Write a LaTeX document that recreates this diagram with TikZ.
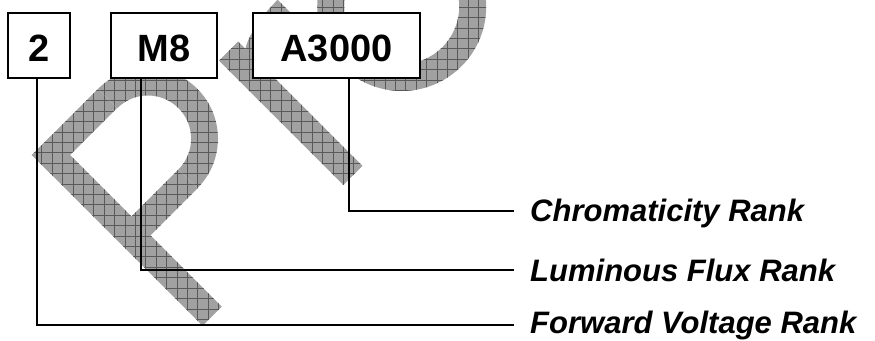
\documentclass[tikz,border=0pt]{standalone}
\usepackage{fontspec}
\setmainfont{Liberation Sans}
\tikzset{
  wmframe/.style={shift={(51,185)}, rotate=45},
  wmfill/.style={fill=black!37},
  wmgrid/.style={draw=black!65, line width=0.6pt, step=10.4},
  codebox/.style={draw=black, fill=white, line width=1.4pt, inner sep=0pt,
    minimum height=65, text height=31.2pt, text depth=0pt,
    font=\fontsize{38}{40}\selectfont\bfseries},
  ranklabel/.style={anchor=west, inner sep=0pt, text height=22pt, text depth=0pt,
    font=\fontsize{31}{33}\selectfont\bfseries\itshape},
  link/.style={draw=black, line width=1.4pt, shorten >=16pt}
}
% one piece of the hatched watermark letters
\newcommand\wmpiece[1]{%
  \begin{scope}
    \clip[wmframe] #1;
    \fill[wmfill] (0,0) rectangle (875,340);
    \draw[wmgrid] (0,0) grid (875,340);
  \end{scope}}
\begin{document}
\begin{tikzpicture}[x=1pt,y=1pt]
\useasboundingbox (0,0) rectangle (875,340);

% watermark "Pro" written diagonally
\wmpiece{(-13.5,-228) rectangle (13.5,13.5)}
\wmpiece{(-13.5,-13.5) rectangle (80,13.5)}
\wmpiece{(0,-127.25) rectangle (80,-100.25)}
\wmpiece{(80,13.5) arc[start angle=90,end angle=-90,radius=70.25] -- (80,-100.25) arc[start angle=-90,end angle=90,radius=43.25] -- cycle}
\wmpiece{(185.5,-228) rectangle (212.5,-52)}
\wmpiece{(185.5,-105) .. controls (190,-62) and (228,-50.5) .. (270,-50.5) -- (270,-77.5) .. controls (238,-77.5) and (216,-84) .. (212.5,-105) -- cycle}
\wmpiece{(437.5,-143) arc[start angle=0,end angle=360,radius=84.5] -- (410.5,-143) arc[start angle=360,end angle=0,radius=57.5] -- cycle}

% code boxes
\node[codebox, minimum width=62]  (vf)  at (39,294.5)  {2};
\node[codebox, minimum width=106] (lum) at (164,294.5) {M8};
\node[codebox, minimum width=167] (chr) at (336.5,294.5) {A3000};

% rank labels
\node[ranklabel] (lchr) at (530,129) {Chromaticity Rank};
\node[ranklabel] (llum) at (530,70)  {Luminous Flux Rank};
\node[ranklabel, text height=17pt] (lvf) at (530,15) {Forward Voltage Rank};

% drop points of the leaders
\coordinate (dvf)  at (37,0);
\coordinate (dlum) at (141,0);
\coordinate (dchr) at (349,0);

% leaders
\draw[link] (vf.south -| dvf) |- (lvf.west);
\draw[link] (lum.south -| dlum) |- (llum.west);
\draw[link] (chr.south -| dchr) |- (lchr.west);
\end{tikzpicture}
\end{document}
